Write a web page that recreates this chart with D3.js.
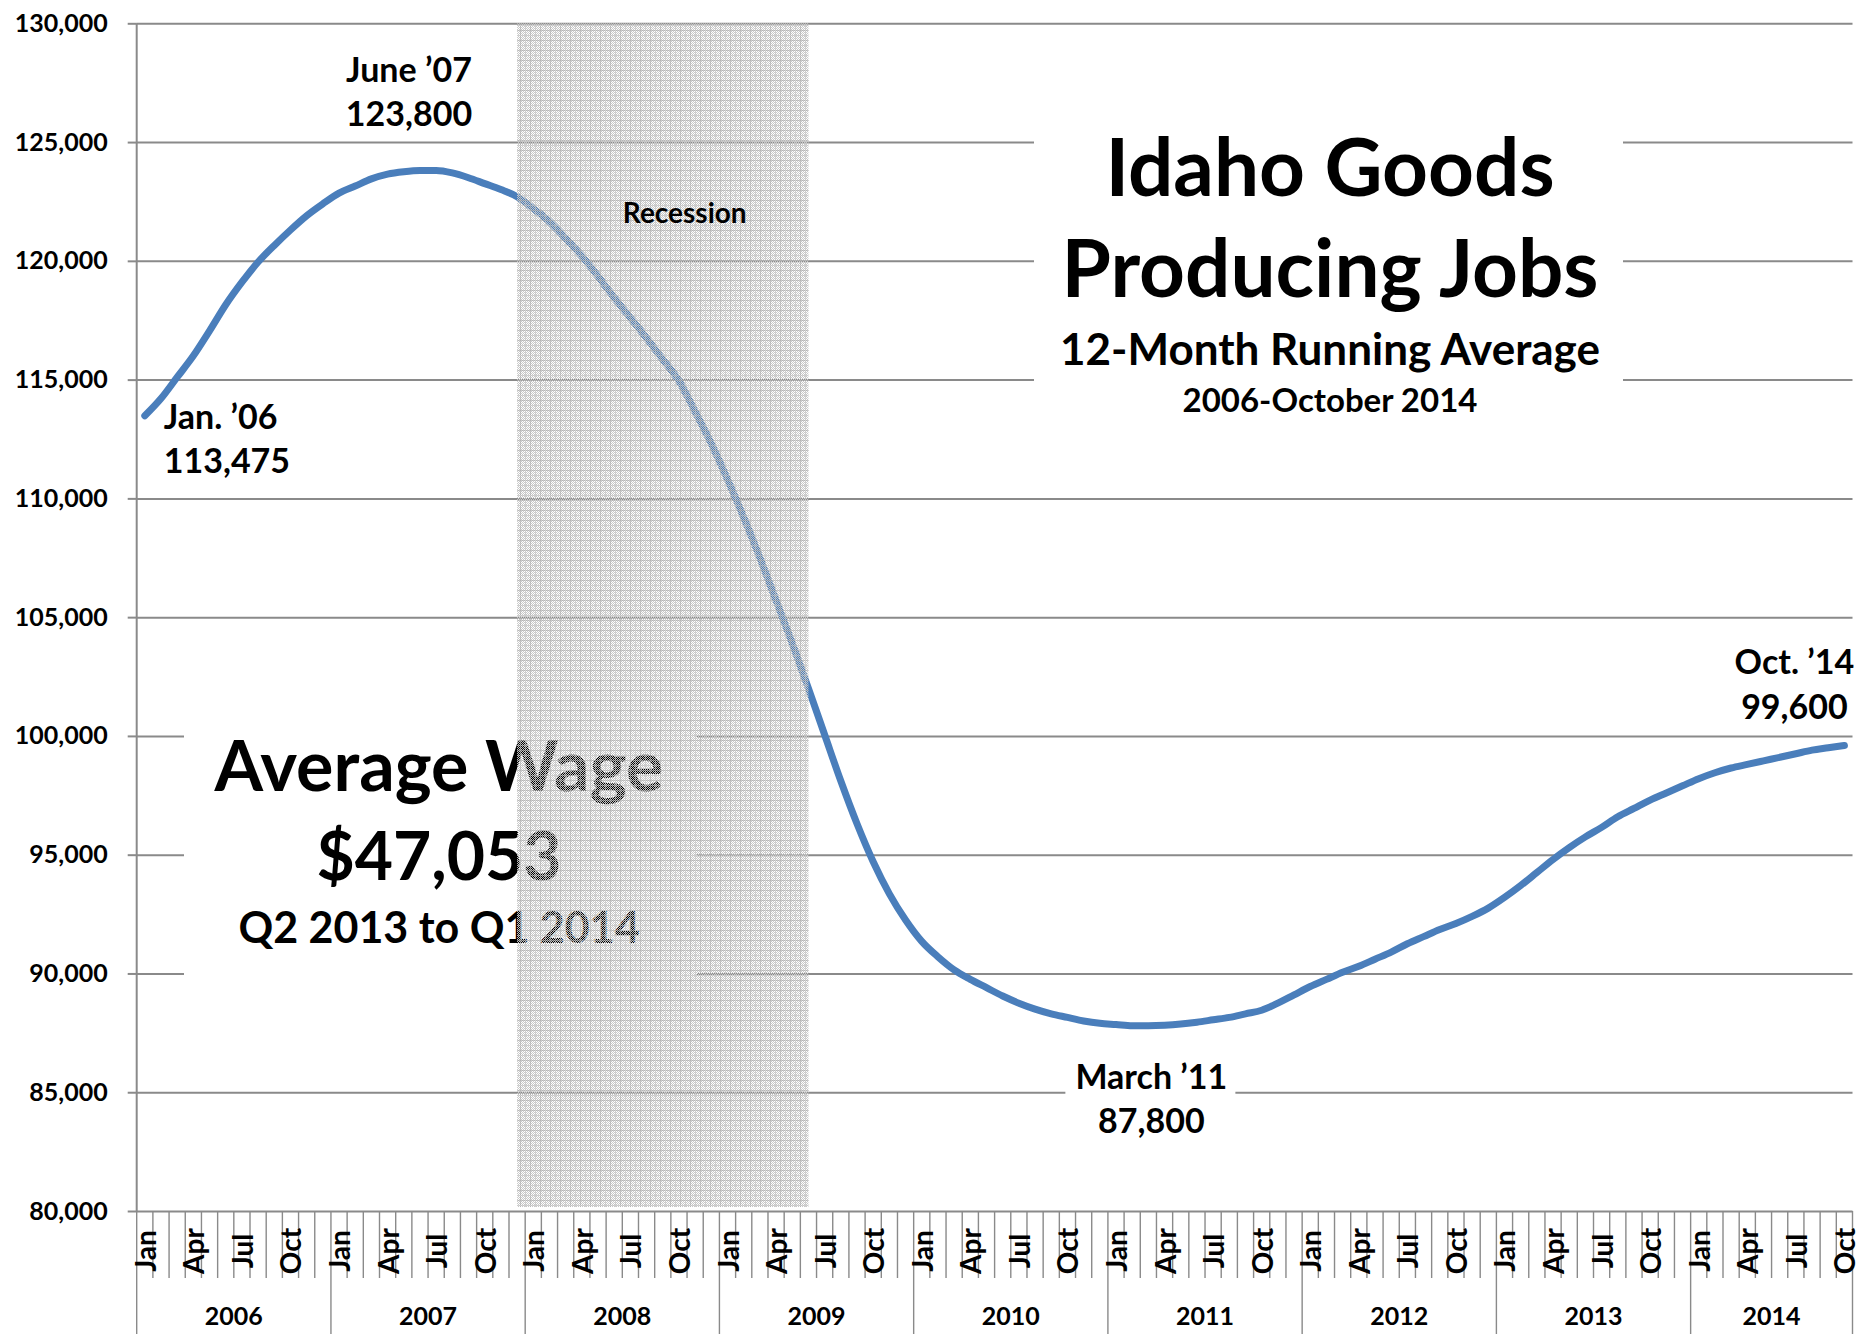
<!DOCTYPE html>
<html>
<head>
<meta charset="utf-8">
<script src="https://cdn.jsdelivr.net/npm/d3@7"></script>
<style>
  body { margin: 0; background: #fff; }
  text { font-family: "Lato", "Open Sans", sans-serif; font-weight: 700; fill: #000; }
</style>
</head>
<body>
<script>
// data
var monthNames = ["Jan","Feb","Mar","Apr","May","Jun","Jul","Aug","Sep","Oct","Nov","Dec"];
var years = [2006, 2007, 2008, 2009, 2010, 2011, 2012, 2013, 2014];
var labeledMonths = ["Jan", "Apr", "Jul", "Oct"];
var yTicks = [80000, 85000, 90000, 95000, 100000, 105000, 110000, 115000, 120000, 125000, 130000];

// 12-month running average, Jan 2006 .. Oct 2014
var jobs = [
  113475, 114200, 115100, 116000, 117050, 118150, 119100, 119950, 120650, 121300, 121900, 122400,
  122850, 123150, 123450, 123650, 123750, 123800, 123800, 123700, 123500, 123250, 123000, 122700,
  122200, 121650, 120950, 120200, 119350, 118450, 117600, 116750, 115850, 114950, 113650, 112300,
  110800, 109200, 107500, 105700, 103900, 102000, 100050, 98100, 96300, 94700, 93350, 92250,
  91350, 90700, 90150, 89750, 89400, 89050, 88750, 88500, 88300, 88150, 88000, 87900,
  87850, 87800, 87800, 87820, 87870, 87950, 88050, 88150, 88300, 88450, 88750, 89100,
  89450, 89750, 90050, 90300, 90600, 90900, 91250, 91550, 91850, 92100, 92400, 92750,
  93200, 93700, 94250, 94800, 95300, 95750, 96150, 96600, 96950, 97300, 97600, 97900,
  98200, 98450, 98650, 98800, 98950, 99100, 99250, 99400, 99500, 99600
];

var recessionStart = "Dec 2007", recessionEnd = "Jun 2009";

var callouts = [
  {month: "Jan 2006", lines: ["Jan. \u201906", "113,475"]},
  {month: "Jun 2007", lines: ["June \u201907", "123,800"]},
  {month: "Mar 2011", lines: ["March \u201911", "87,800"]},
  {month: "Oct 2014", lines: ["Oct. \u201914", "99,600"]}
];

var titleLines = ["Idaho Goods", "Producing Jobs", "12-Month Running Average", "2006-October 2014"];
var wageLines = ["Average Wage", "$47,053", "Q2 2013 to Q1 2014"];

var cats = [];
years.forEach(function(yr){
    monthNames.forEach(function(m){ cats.push(m + " " + yr); });
});
cats = cats.slice(0, jobs.length);

var plotL = 136.7, plotR = 1852.5, plotT = 23.3, plotB = 1211;
var gridColor = "#8a8a8a";

var svg = d3.select("body").append("svg")
    .attr("width", 1860)
    .attr("height", 1340);

var x = d3.scaleBand().domain(cats).range([plotL, plotR]);
var bw = x.bandwidth();
var y = d3.scaleLinear().domain([80000, 130000]).range([plotB, plotT]);
var cx = function(c){ return x(c) + bw / 2; };

// patterns for the recession shading
var defs = svg.append("defs");
var checker = defs.append("pattern").attr("id", "checker")
    .attr("width", 2).attr("height", 2).attr("patternUnits", "userSpaceOnUse");
checker.append("rect").attr("x", 0).attr("y", 0).attr("width", 1).attr("height", 1).attr("fill", "#c8c8c8");
checker.append("rect").attr("x", 1).attr("y", 1).attr("width", 1).attr("height", 1).attr("fill", "#c8c8c8");
var grid = defs.append("pattern").attr("id", "grid")
    .attr("width", 10).attr("height", 10).attr("patternUnits", "userSpaceOnUse");
grid.append("path").attr("d", "M0 0.5H10M0.5 0V10")
    .attr("stroke", "#a8a8a8").attr("stroke-width", 1).attr("fill", "none");
grid.append("path").attr("d", "M0 5.5H10M5.5 0V10")
    .attr("stroke", "#b8b8b8").attr("stroke-width", 1).attr("stroke-dasharray", "1,1").attr("fill", "none");

// gridlines
svg.append("g")
    .attr("transform", "translate(" + plotL + ",0)")
    .call(d3.axisLeft(y).tickValues(yTicks).tickSize(-(plotR - plotL)).tickFormat(""))
    .call(function(g){ g.select(".domain").remove(); })
    .selectAll("line").attr("stroke", gridColor).attr("stroke-width", 2);

// y axis with labels
var yAxis = svg.append("g")
    .attr("transform", "translate(" + plotL + ",0)")
    .call(d3.axisLeft(y).tickValues(yTicks).tickSize(9).tickPadding(20).tickFormat(d3.format(",")));
yAxis.select(".domain").attr("stroke", gridColor).attr("stroke-width", 2).attr("d", "M0," + plotT + "V" + plotB);
yAxis.selectAll("line").attr("stroke", gridColor).attr("stroke-width", 2);
yAxis.selectAll("text").style("font-size", "25px").attr("fill", "#000");

// x axis: month cells, year groups
var bounds = d3.range(cats.length + 1);
svg.append("g").selectAll("line")
    .data(bounds)
    .join("line")
    .attr("x1", function(k){ return k < cats.length ? x(cats[k]) : plotR; })
    .attr("x2", function(k){ return k < cats.length ? x(cats[k]) : plotR; })
    .attr("y1", plotB)
    .attr("y2", function(k){ return (k % 12 === 0 || k === cats.length) ? 1334 : 1278; })
    .attr("stroke", gridColor)
    .attr("stroke-width", 1.4);

svg.append("g").selectAll("text")
    .data(cats.filter(function(c){ return labeledMonths.indexOf(c.split(" ")[0]) >= 0; }))
    .join("text")
    .attr("transform", function(c){ return "translate(" + cx(c) + ",1251) rotate(-90)"; })
    .attr("text-anchor", "middle")
    .attr("dominant-baseline", "central")
    .style("font-size", "28px")
    .text(function(c){ return c.split(" ")[0]; });

svg.append("g").selectAll("text")
    .data(years)
    .join("text")
    .attr("x", function(yr){
        var inYear = cats.filter(function(c){ return c.split(" ")[1] == yr; });
        var x0 = x(inYear[0]), x1 = x(inYear[inYear.length - 1]) + bw;
        return (x0 + x1) / 2;
    })
    .attr("y", 1325)
    .attr("text-anchor", "middle")
    .style("font-size", "25px")
    .text(function(yr){ return yr; });

// white boxes behind the text blocks
svg.append("rect").attr("x", 1034).attr("y", 128).attr("width", 589).attr("height", 292).attr("fill", "#fff");
svg.append("rect").attr("x", 184).attr("y", 715).attr("width", 513).attr("height", 275).attr("fill", "#fff");
svg.append("rect").attr("x", cx("Mar 2011") - 83).attr("y", y(87800) + 34).attr("width", 170).attr("height", 86).attr("fill", "#fff");

// title
var titleSizes = [80, 80, 44, 33];
var titleBase = [196, 297, 365, 412];
svg.append("g").selectAll("text")
    .data(titleLines)
    .join("text")
    .attr("x", 1330)
    .attr("y", function(d, i){ return titleBase[i]; })
    .attr("text-anchor", "middle")
    .style("font-size", function(d, i){ return titleSizes[i] + "px"; })
    .text(function(d){ return d; });

// average wage block
var wageSizes = [70, 66, 43];
var wageBase = [791, 880, 943];
svg.append("g").selectAll("text")
    .data(wageLines)
    .join("text")
    .attr("x", 439)
    .attr("y", function(d, i){ return wageBase[i]; })
    .attr("text-anchor", "middle")
    .style("font-size", function(d, i){ return wageSizes[i] + "px"; })
    .text(function(d){ return d; });

// series line
var line = d3.line()
    .x(function(d, i){ return cx(cats[i]); })
    .y(function(d){ return y(d); })
    .curve(d3.curveMonotoneX);

svg.append("path")
    .datum(jobs)
    .attr("d", line)
    .attr("fill", "none")
    .attr("stroke", "#4a7ebb")
    .attr("stroke-width", 7)
    .attr("stroke-linecap", "round")
    .attr("stroke-linejoin", "round");

// callout labels
var calloutPos = {
    "Jan 2006": {dx: 19, dy: 13, anchor: "start"},
    "Jun 2007": {dx: -11, dy: -89, anchor: "middle"},
    "Mar 2011": {dx: 3, dy: 63, anchor: "middle"},
    "Oct 2014": {dx: -50, dy: -71, anchor: "middle"}
};
callouts.forEach(function(c){
    var p = calloutPos[c.month];
    var i = cats.indexOf(c.month);
    svg.append("g").selectAll("text")
        .data(c.lines)
        .join("text")
        .attr("x", cx(c.month) + p.dx)
        .attr("y", function(d, k){ return y(jobs[i]) + p.dy + k * 44.5; })
        .attr("text-anchor", p.anchor)
        .style("font-size", "34px")
        .text(function(d){ return d; });
});

// recession shading drawn over the line
var rx0 = cx(recessionStart), rx1 = cx(recessionEnd);
svg.append("rect")
    .attr("x", rx0).attr("y", plotT)
    .attr("width", rx1 - rx0).attr("height", plotB - 4 - plotT)
    .attr("fill", "url(#checker)");
svg.append("rect")
    .attr("x", rx0).attr("y", plotT)
    .attr("width", rx1 - rx0).attr("height", plotB - 4 - plotT)
    .attr("fill", "url(#grid)")
    .attr("opacity", 0.6);

svg.append("text")
    .attr("x", (rx0 + rx1) / 2 + 22)
    .attr("y", 223)
    .attr("text-anchor", "middle")
    .style("font-size", "28px")
    .text("Recession");
</script>
</body>
</html>
